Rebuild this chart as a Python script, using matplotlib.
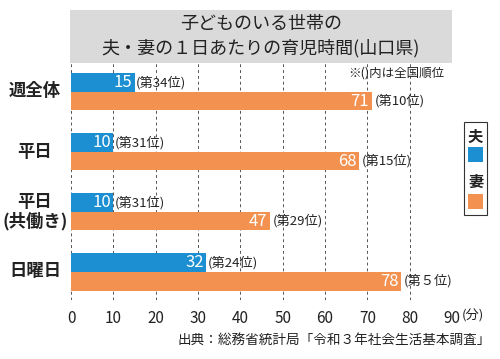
import matplotlib
matplotlib.use("Agg")
import matplotlib.pyplot as plt
import matplotlib.patches as patches

plt.rcParams['font.family'] = ['Noto Sans CJK JP', 'DejaVu Sans']

categories = ["週全体", "平日", "平日\n(共働き)", "日曜日"]
husband = [15, 10, 10, 32]
wife = [71, 68, 47, 78]
husband_rank = ["(第34位)", "(第31位)", "(第31位)", "(第24位)"]
wife_rank = ["(第10位)", "(第15位)", "(第29位)", "(第５位)"]
xticks = [0, 10, 20, 30, 40, 50, 60, 70, 80, 90]

BLUE = "#1b8fd2"
ORANGE = "#f39250"
TEXT = "#222222"

fig = plt.figure(figsize=(5, 3.59), dpi=100)
ax = fig.add_axes([0.142, 0.164, 0.762, 0.66])

h = 0.31
for i in range(len(categories)):
    ax.barh(i - h / 2, husband[i], height=h, color=BLUE, zorder=2)
    ax.barh(i + h / 2, wife[i], height=h, color=ORANGE, zorder=2)
    ax.text(husband[i] - 0.6, i - h / 2, str(husband[i]), color="white",
            ha="right", va="center", fontsize=12, zorder=3)
    ax.text(wife[i] - 0.6, i + h / 2, str(wife[i]), color="white",
            ha="right", va="center", fontsize=12, zorder=3)
    ax.text(husband[i] + 0.4, i - h / 2, husband_rank[i], color=TEXT,
            ha="left", va="center", fontsize=9.5, zorder=3)
    ax.text(wife[i] + 0.7, i + h / 2, wife_rank[i], color=TEXT,
            ha="left", va="center", fontsize=9.5, zorder=3)

ax.set_xlim(0, 90)
ax.set_ylim(3.47, -0.475)
for x in xticks:
    ax.axvline(x, color="#555555", linestyle=(0, (3, 3)), linewidth=0.7, zorder=1)
for s in ax.spines.values():
    s.set_visible(False)
ax.set_yticks([])
ax.set_xticks(xticks)
ax.set_xticklabels([str(x) for x in xticks], fontsize=11, color=TEXT)
ax.tick_params(axis="x", length=0, pad=7)
ax.text(92.3, 3.47 + 0.27, "(分)", ha="left", va="center", fontsize=9.5, color=TEXT,
        clip_on=False)

for i, c in enumerate(categories):
    fig.text(0.07, 1 - (91.5 + 60 * i) / 359, c,
             ha="center", va="center", fontsize=12.5, color=TEXT,
             fontweight="bold", linespacing=1.1)

ax.text(88.3, -0.308, "※()内は全国順位", ha="right", va="center", fontsize=9,
        color=TEXT, zorder=3)

# title box
fig.patches.append(patches.Rectangle((70 / 500, 1 - 63 / 359), 382 / 500, 53 / 359,
                                     transform=fig.transFigure, facecolor="#dadada",
                                     edgecolor="none", zorder=0))
fig.text(261 / 500, 1 - 24 / 359, "子どものいる世帯の", ha="center", va="center",
         fontsize=13, color=TEXT)
fig.text(261 / 500, 1 - 48 / 359, "夫・妻の１日あたりの育児時間(山口県)", ha="center",
         va="center", fontsize=13, color=TEXT)

# legend
fig.patches.append(patches.Rectangle((464 / 500, 1 - 215 / 359), 23 / 500, 93 / 359,
                                     transform=fig.transFigure, facecolor="white",
                                     edgecolor="#333333", linewidth=0.8))
fig.text(475.5 / 500, 1 - 137 / 359, "夫", ha="center", va="center", fontsize=11,
         color=TEXT, fontweight="bold")
fig.patches.append(patches.Rectangle((468 / 500, 1 - 162 / 359), 15 / 500, 15 / 359,
                                     transform=fig.transFigure, facecolor=BLUE))
fig.text(475.5 / 500, 1 - 182 / 359, "妻", ha="center", va="center", fontsize=11,
         color=TEXT, fontweight="bold")
fig.patches.append(patches.Rectangle((468 / 500, 1 - 209 / 359), 15 / 500, 15 / 359,
                                     transform=fig.transFigure, facecolor=ORANGE))

fig.text(491 / 500, 1 - 340 / 359, "出典：総務省統計局「令和３年社会生活基本調査」",
         ha="right", va="center", fontsize=9.8, color=TEXT)

fig.savefig("out.png", dpi=100, facecolor="white")
